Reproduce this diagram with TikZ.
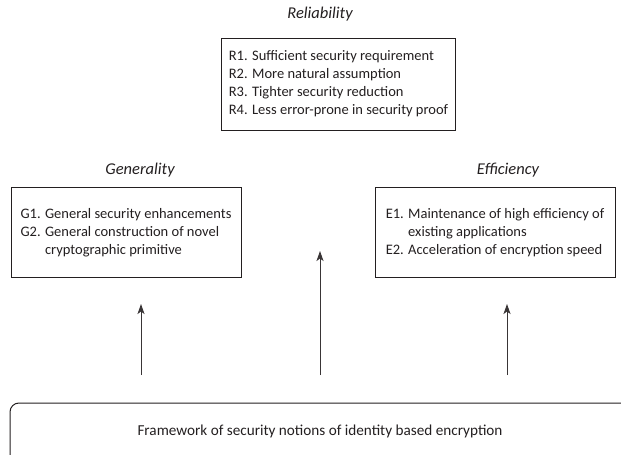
\documentclass[tikz,border=0pt]{standalone}
\usepackage{fontspec}
\setmainfont{Carlito}
\usetikzlibrary{arrows.meta}
\definecolor{ink}{HTML}{231F20}
\begin{document}
\begin{tikzpicture}[x=1pt,y=-1pt,
  every node/.style={text=ink, inner sep=0pt, outer sep=0pt},
  heading/.style={font=\fontsize{16.5}{20}\selectfont\itshape},
  listbox/.style={draw=ink, line width=1pt, font=\fontsize{14.5}{18}\selectfont},
  basebox/.style={draw=ink, line width=1pt, rounded corners=9pt},
  uparrow/.style={draw=ink!90, line width=1pt, -{Stealth[length=10pt,width=7pt,inset=2.5pt]}}
]
\useasboundingbox (0,0) rectangle (621,455);
\clip (0,0) rectangle (621,455);

% headings
\node[heading] (rtitle) at (320,14) {Reliability};
\node[heading] (gtitle) at (140,170) {Generality};
\node[heading] (etitle) at (508,170) {Efficiency};

% property boxes
\node[listbox, minimum width=234, minimum height=92] (rbox) at (338.5,84)
  {\begin{tabular}{@{}l@{ }l@{}}
   R1.&Sufficient security requirement\\
   R2.&More natural assumption\\
   R3.&Tighter security reduction\\
   R4.&Less error-prone in security proof
   \end{tabular}};
\node[listbox, minimum width=230, minimum height=90] (gbox) at (126,232.5)
  {\begin{tabular}{@{}l@{ }l@{}}
   G1.&General security enhancements\\
   G2.&General construction of novel\\
      &cryptographic primitive
   \end{tabular}};
\node[listbox, minimum width=240, minimum height=90] (ebox) at (495,232.5)
  {\begin{tabular}{@{}l@{ }l@{}}
   E1.&Maintenance of high efficiency of\\
      &existing applications\\
   E2.&Acceleration of encryption speed
   \end{tabular}};

% framework box (runs past the right and bottom edges)
\draw[basebox] (10,403) rectangle (640,470);
\node[font=\fontsize{15.2}{18}\selectfont] (fw) at (320,431)
  {Framework of security notions of identity based encryption};

% arrows from the framework up to the three properties
\coordinate (ga) at (141,375);
\coordinate (ra) at (320,375);
\coordinate (ea) at (507,375);
\coordinate (gt) at (141,304);
\coordinate (rt) at (320,251);
\coordinate (et) at (507,304);
\draw[uparrow] (ga) -- (gt);
\draw[uparrow] (ra) -- (rt);
\draw[uparrow] (ea) -- (et);
\end{tikzpicture}
\end{document}
